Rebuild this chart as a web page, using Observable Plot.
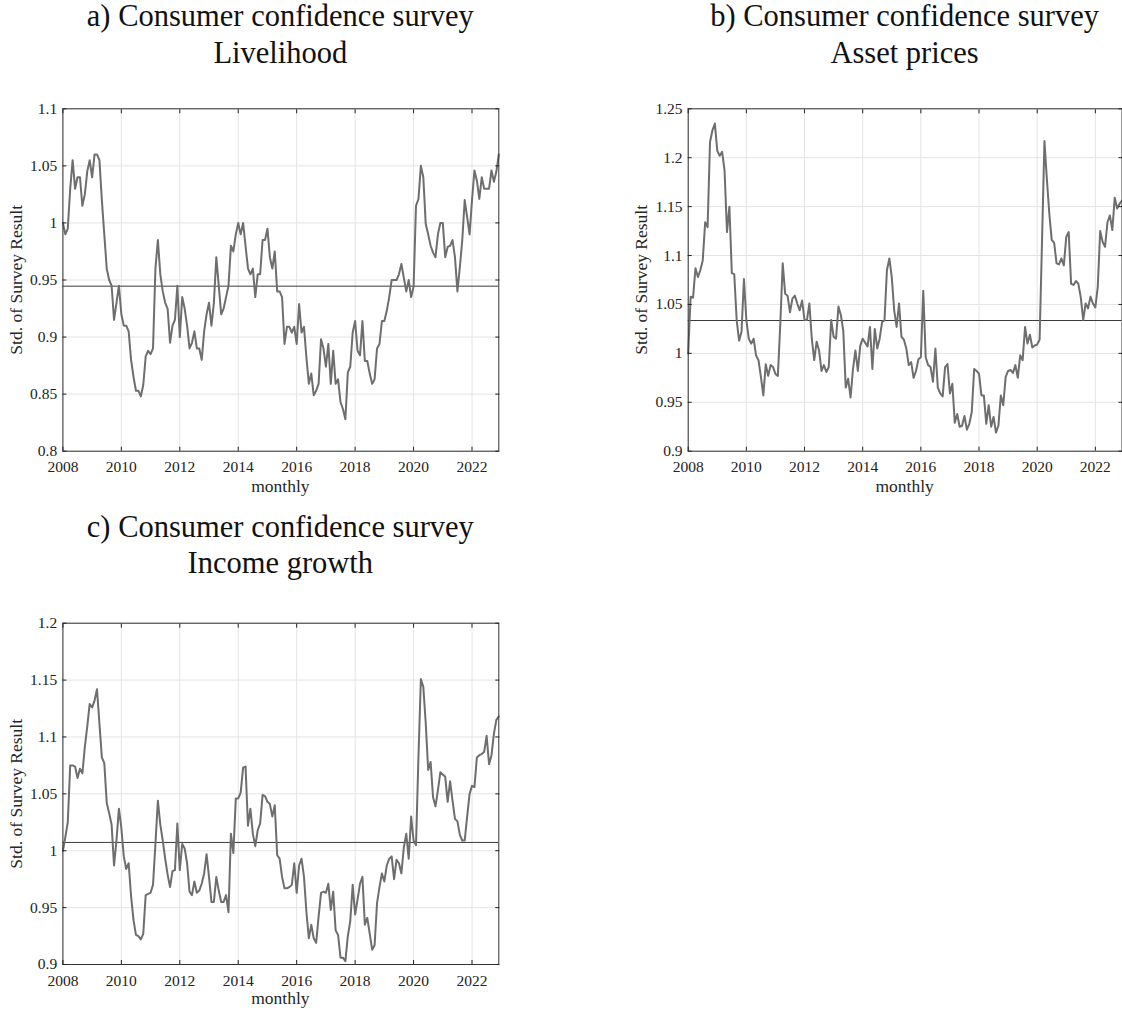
<!DOCTYPE html>
<html>
<head>
<meta charset="utf-8">
<script src="https://cdn.jsdelivr.net/npm/d3@7"></script>
<script src="https://cdn.jsdelivr.net/npm/@observablehq/plot@0.6"></script>
<style>
  html, body { margin: 0; padding: 0; background: #fff; }
  #root { position: relative; width: 1122px; height: 1012px; overflow: hidden; background: #fff; }
  .title { position: absolute; width: 600px; text-align: center; font-family: "Liberation Serif", "Times New Roman", serif; font-size: 30.5px; line-height: 36.6px; color: #111; white-space: nowrap; }
  .axlabel { position: absolute; font-family: "Liberation Serif", "Times New Roman", serif; font-size: 17.5px; line-height: 1; color: #262626; text-align: center; white-space: nowrap; }
  .panel { position: absolute; }
  .panel svg { overflow: visible; }
</style>
</head>
<body>
<div id="root"></div>
<script>
// ---- data (monthly, Jan 2008 .. Dec 2022) ----
const startYear = 2008;
const xTicks = [2008, 2010, 2012, 2014, 2016, 2018, 2020, 2022];

const livelihood = [
  1.0, 0.99, 0.995, 1.03, 1.055, 1.03, 1.04, 1.04, 1.015, 1.025, 1.045, 1.055,
  1.04, 1.06, 1.06, 1.055, 1.02, 0.99, 0.96, 0.95, 0.945, 0.915, 0.93, 0.945,
  0.92, 0.91, 0.91, 0.905, 0.88, 0.865, 0.853, 0.853, 0.848, 0.858, 0.883, 0.888,
  0.885, 0.89, 0.96, 0.985, 0.955, 0.94, 0.93, 0.925, 0.895, 0.91, 0.915, 0.945,
  0.9, 0.935, 0.925, 0.91, 0.89, 0.895, 0.905, 0.89, 0.89, 0.88, 0.905, 0.92,
  0.93, 0.91, 0.93, 0.97, 0.945, 0.92, 0.925, 0.935, 0.945, 0.98, 0.975, 0.99,
  1.0, 0.99, 1.0, 0.98, 0.96, 0.955, 0.96, 0.935, 0.955, 0.955, 0.985, 0.985,
  0.995, 0.97, 0.96, 0.975, 0.94, 0.94, 0.935, 0.894, 0.909, 0.909, 0.904, 0.909,
  0.894, 0.929, 0.904, 0.909, 0.882, 0.859, 0.868, 0.849, 0.853, 0.859, 0.898, 0.89,
  0.874, 0.894, 0.859, 0.888, 0.859, 0.863, 0.843, 0.837, 0.828, 0.869, 0.874, 0.904,
  0.914, 0.888, 0.884, 0.914, 0.879, 0.879, 0.868, 0.859, 0.863, 0.89, 0.894, 0.914,
  0.914, 0.923, 0.935, 0.95, 0.95, 0.95, 0.955, 0.964, 0.952, 0.94, 0.95, 0.935,
  0.944, 1.015, 1.021, 1.05, 1.04, 0.999, 0.99, 0.98, 0.974, 0.97, 0.99, 1.0,
  1.0, 0.97, 0.979, 0.98, 0.985, 0.97, 0.94, 0.961, 0.985, 1.02, 1.005, 0.99,
  1.02, 1.046, 1.037, 1.021, 1.04, 1.03, 1.03, 1.03, 1.046, 1.036, 1.045, 1.06
];

const assetPrices = [
  1.0, 1.058, 1.057, 1.087, 1.078, 1.085, 1.095, 1.134, 1.129, 1.216, 1.228, 1.235,
  1.207, 1.202, 1.206, 1.187, 1.124, 1.15, 1.082, 1.081, 1.034, 1.013, 1.022, 1.076,
  1.034, 1.015, 1.01, 1.015, 0.998, 0.993, 0.976, 0.957, 0.989, 0.977, 0.988, 0.986,
  0.979, 0.977, 1.03, 1.092, 1.061, 1.059, 1.042, 1.056, 1.059, 1.051, 1.044, 1.054,
  1.034, 1.034, 1.051, 1.015, 0.993, 1.012, 1.003, 0.982, 0.988, 0.981, 0.986, 1.034,
  1.017, 1.015, 1.048, 1.039, 1.023, 0.965, 0.974, 0.955, 0.984, 1.003, 0.982, 1.008,
  1.015, 1.011, 1.007, 1.027, 0.984, 1.025, 1.005, 1.015, 1.032, 1.034, 1.085, 1.097,
  1.078, 1.044, 1.027, 1.051, 1.017, 1.014, 1.005, 0.988, 0.991, 0.975, 0.982, 0.994,
  0.996, 1.064, 0.996, 0.988, 0.986, 0.971, 1.005, 0.965, 0.959, 0.956, 0.986, 0.989,
  0.959, 0.969, 0.929, 0.938, 0.925, 0.926, 0.936, 0.922, 0.928, 0.94, 0.984, 0.982,
  0.979, 0.957, 0.957, 0.928, 0.947, 0.925, 0.935, 0.919, 0.926, 0.957, 0.947, 0.976,
  0.982, 0.983, 0.98, 0.988, 0.975, 0.998, 0.993, 1.027, 1.01, 1.019, 1.006, 1.008,
  1.009, 1.014, 1.115, 1.217, 1.178, 1.143, 1.116, 1.113, 1.092, 1.091, 1.097, 1.09,
  1.119, 1.124, 1.071, 1.07, 1.074, 1.071, 1.057, 1.034, 1.051, 1.046, 1.058, 1.051,
  1.047, 1.068, 1.125, 1.114, 1.109, 1.134, 1.141, 1.126, 1.159, 1.148, 1.153, 1.156
];

const incomeGrowth = [
  1.0, 1.012, 1.025, 1.075, 1.075, 1.074, 1.064, 1.072, 1.068, 1.091, 1.109, 1.129,
  1.126, 1.132, 1.142, 1.112, 1.082, 1.077, 1.042, 1.033, 1.023, 0.987, 1.009, 1.037,
  1.02, 0.995, 0.984, 0.989, 0.96, 0.939, 0.926, 0.925, 0.922, 0.927, 0.961, 0.962,
  0.963, 0.97, 1.006, 1.044, 1.023, 1.009, 0.993, 0.979, 0.968, 0.982, 0.983, 1.024,
  0.983, 1.006, 1.002, 0.989, 0.964, 0.961, 0.973, 0.963, 0.965, 0.971, 0.98, 0.997,
  0.977, 0.955, 0.955, 0.977, 0.965, 0.955, 0.955, 0.961, 0.946, 1.015, 0.998, 1.046,
  1.046, 1.051, 1.073, 1.074, 1.022, 1.037, 1.015, 1.004, 1.018, 1.024, 1.049, 1.048,
  1.043, 1.041, 1.03, 1.04, 0.996, 0.993, 0.977, 0.967, 0.967, 0.968, 0.97, 0.989,
  0.963, 0.987, 0.993, 0.977, 0.946, 0.923, 0.935, 0.923, 0.919, 0.942, 0.963, 0.964,
  0.963, 0.971, 0.948, 0.964, 0.93, 0.926, 0.906, 0.906, 0.903, 0.925, 0.938, 0.97,
  0.944, 0.957, 0.971, 0.977, 0.935, 0.941, 0.927, 0.913, 0.917, 0.954, 0.968, 0.98,
  0.973, 0.987, 0.993, 0.995, 0.975, 0.992, 0.989, 0.98, 1.003, 1.015, 0.993, 1.03,
  1.009, 1.005, 1.082, 1.151, 1.144, 1.112, 1.071, 1.078, 1.047, 1.039, 1.053, 1.069,
  1.067, 1.065, 1.043, 1.061, 1.044, 1.028, 1.026, 1.014, 1.009, 1.009, 1.03, 1.05,
  1.057, 1.056, 1.082, 1.084, 1.085, 1.087, 1.101, 1.076, 1.084, 1.103, 1.115, 1.118
];

// reference (average) levels
const refLivelihood = [0.9446];
const refAssetPrices = [1.0336];
const refIncomeGrowth = [1.0073];

const yTicksA = [0.8, 0.85, 0.9, 0.95, 1.0, 1.05, 1.1];
const yTicksB = [0.9, 0.95, 1.0, 1.05, 1.1, 1.15, 1.2, 1.25];
const yTicksC = [0.9, 0.95, 1.0, 1.05, 1.1, 1.15, 1.2];

const titles = [
  ["a) Consumer confidence survey", "Livelihood"],
  ["b) Consumer confidence survey", "Asset prices"],
  ["c) Consumer confidence survey", "Income growth"]
];
const yLabel = "Std. of Survey Result";
const xLabel = "monthly";

// ---- drawing ----
const root = document.getElementById("root");
const fmtY = d => String(Math.round(d * 100) / 100);
const fontFamily = "'Liberation Serif', 'Times New Roman', serif";

function panel(values, ref, yTicks, box) {
  const data = values.map((v, i) => ({x: startYear + i / 12, v}));
  const tick = -4;
  return Plot.plot({
    width: box.width,
    height: box.height,
    marginLeft: box.ml,
    marginRight: box.mr,
    marginTop: box.mt,
    marginBottom: box.mb,
    style: {fontFamily, fontSize: "15.5px", color: "#222", background: "transparent", overflow: "visible"},
    x: {domain: [startYear, 2022 + 11 / 12], label: null},
    y: {domain: [yTicks[0], yTicks[yTicks.length - 1]], label: null},
    marks: [
      Plot.gridX(xTicks, {stroke: "#e4e4e4", strokeOpacity: 1, strokeWidth: 1}),
      Plot.gridY(yTicks, {stroke: "#e4e4e4", strokeOpacity: 1, strokeWidth: 1}),
      Plot.ruleY(ref, {stroke: "#3a3a3a", strokeWidth: 1}),
      Plot.line(data, {x: "x", y: "v", stroke: "#6e6e6e", strokeWidth: 2}),
      Plot.frame({stroke: "#333", strokeWidth: 1}),
      Plot.axisX(xTicks, {anchor: "bottom", tickSize: tick, tickPadding: 14, tickFormat: d => String(d), label: null}),
      Plot.axisX(xTicks, {anchor: "top", tickSize: tick, tickFormat: () => "", label: null}),
      Plot.axisY(yTicks, {anchor: "left", tickSize: tick, tickPadding: 9.7, tickFormat: fmtY, label: null}),
      Plot.axisY(yTicks, {anchor: "right", tickSize: tick, tickFormat: () => "", label: null})
    ]
  });
}

const boxes = [
  {left: 0, top: 100, width: 520, height: 400, ml: 62.4, mr: 21.7, mt: 8.3, mb: 49.3, titleTop: -1.8, xlabTop: 478.3},
  {left: 630, top: 100, width: 492, height: 400, ml: 57.7, mr: 0.5, mt: 8.3, mb: 49.3, titleTop: -1.8, xlabTop: 478.3},
  {left: 0, top: 614, width: 520, height: 398, ml: 62.4, mr: 21.7, mt: 8.7, mb: 48, titleTop: 508.5, xlabTop: 989.5}
];
const series = [
  [livelihood, refLivelihood, yTicksA],
  [assetPrices, refAssetPrices, yTicksB],
  [incomeGrowth, refIncomeGrowth, yTicksC]
];

series.forEach(([vals, ref, yt], k) => {
  const box = boxes[k];
  const wrap = document.createElement("div");
  wrap.className = "panel";
  wrap.style.left = box.left + "px";
  wrap.style.top = box.top + "px";
  wrap.appendChild(panel(vals, ref, yt, box));
  root.appendChild(wrap);

  const frameLeft = box.left + box.ml;
  const frameRight = box.left + box.width - box.mr;
  const frameTop = box.top + box.mt;
  const frameBottom = box.top + box.height - box.mb;
  const cx = (frameLeft + frameRight) / 2;
  const cy = (frameTop + frameBottom) / 2;

  const t = document.createElement("div");
  t.className = "title";
  t.style.left = (cx - 300) + "px";
  t.style.top = box.titleTop + "px";
  t.innerHTML = titles[k][0] + "<br>" + titles[k][1];
  root.appendChild(t);

  const xl = document.createElement("div");
  xl.className = "axlabel";
  xl.style.width = "200px";
  xl.style.left = (cx - 100) + "px";
  xl.style.top = box.xlabTop + "px";
  xl.textContent = xLabel;
  root.appendChild(xl);

  const yl = document.createElement("div");
  yl.className = "axlabel";
  yl.style.width = "300px";
  const ycx = frameLeft - 45.6;
  yl.style.left = (ycx - 150) + "px";
  yl.style.top = (cy - 8.75) + "px";
  yl.style.transform = "rotate(-90deg)";
  yl.style.transformOrigin = "50% 50%";
  yl.textContent = yLabel;
  root.appendChild(yl);
});
</script>
</body>
</html>
